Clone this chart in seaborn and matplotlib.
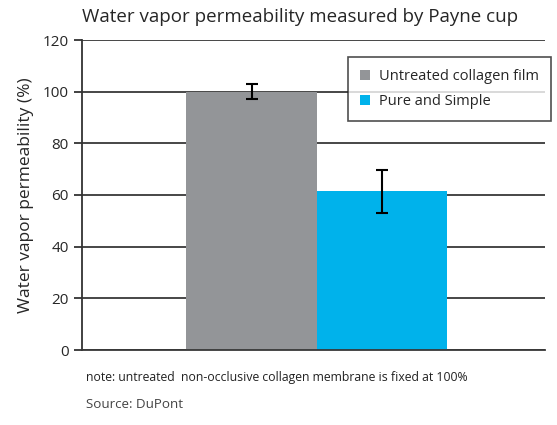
import pandas as pd
import seaborn as sns
import matplotlib.pyplot as plt
import numpy as np

# Data
groups = ["Untreated collagen film", "Pure and Simple"]
values = [100, 61.5]
errors = [3, 8.3]
colors = ["#939598", "#00b2eb"]
y_ticks = [0, 20, 40, 60, 80, 100, 120]

df = pd.DataFrame({"test": ["Payne cup"] * 2, "group": groups, "value": values})

sns.set_style("white")
plt.rcParams["font.family"] = ["Open Sans", "DejaVu Sans"]

fig = plt.figure(figsize=(5.57, 4.25), dpi=100)
ax = fig.add_axes([82 / 557, 75 / 425, 463 / 557, 310 / 425])

sns.barplot(data=df, x="test", y="value", hue="group", palette=colors,
            width=0.8, saturation=1, ax=ax, errorbar=None, linewidth=0)

# error bars centred on each drawn bar
for patch, err in zip(ax.patches[:len(values)], errors):
    cx = patch.get_x() + patch.get_width() / 2
    ax.errorbar(cx, patch.get_height(), yerr=err, color="black",
                capsize=4, elinewidth=1.5, capthick=1.5, zorder=5)

ax.set_xlim(-0.72, 0.70)
ax.set_ylim(0, 120)
ax.set_yticks(y_ticks)
ax.set_xticks([])
ax.set_xlabel("")
ax.set_ylabel("Water vapor permeability (%)", fontsize=12.5, labelpad=6)
ax.tick_params(axis="y", left=True, length=6, width=1.3, labelsize=11, color="#333333")
ax.yaxis.grid(True, color="#383838", linewidth=1.3)
ax.set_axisbelow(True)
for s in ["top", "right"]:
    ax.spines[s].set_visible(False)
ax.spines["left"].set_color("#333333")
ax.spines["left"].set_linewidth(1.3)
ax.spines["bottom"].set_color("#383838")
ax.spines["bottom"].set_linewidth(1.3)

ax.set_title("Water vapor permeability measured by Payne cup", fontsize=13.5,
             loc="left", pad=13)

leg = ax.legend(loc="upper left", bbox_to_anchor=(0.575, 0.945), frameon=True,
                fancybox=False, edgecolor="#222222", fontsize=10.5,
                handlelength=0.7, handleheight=0.7, borderpad=0.8,
                labelspacing=0.7, handletextpad=0.6, borderaxespad=0)
leg.get_frame().set_linewidth(1.2)

fig.text(86 / 557, 1 - 377 / 425, "note: untreated  non-occlusive collagen membrane is fixed at 100%",
         fontsize=8.8, va="center", color="#222222")
fig.text(86 / 557, 1 - 405 / 425, "Source: DuPont", fontsize=9.6, va="center", color="#444444")

fig.savefig("out.png", dpi=100)
